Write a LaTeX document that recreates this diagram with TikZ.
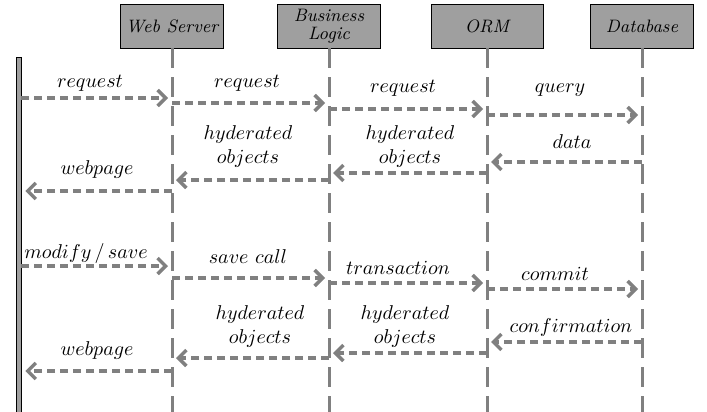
\documentclass[tikz,border=0pt]{standalone}
\usepackage{amsmath,amssymb}
\usepackage{tikz}
\usetikzlibrary{arrows.meta}

\begin{document}
\begin{tikzpicture}[x=0.5pt, y=-0.5pt,
  actor/.style={draw, fill=gray!75, minimum width=51.5pt, minimum height=22pt, inner sep=2pt, align=center, font=\small\itshape},
  life/.style={gray, line width=1.5pt, dash pattern=on 10pt off 4.5pt},
  msg/.style={gray, line width=1.7pt, dash pattern=on 4pt off 2.5pt, -{Straight Barb[length=4pt,width=8pt]}, shorten >=2pt},
  lbl/.style={align=center, inner sep=0pt}]
\useasboundingbox (0,0) rectangle (707,412);
%actors
\node[draw, fill=gray!75, minimum width=2.5pt, minimum height=177.5pt, inner sep=0pt] (client) at (18.5,234.5) {};
\node[actor] (web) at (172,26) {Web Server};
\node[actor, inner sep=1pt] (bl) at (329,26) {Business\\[-2pt]Logic};
\node[actor, minimum width=56pt] (orm) at (487,26) {ORM};
\node[actor] (db) at (642,26) {Database};
\coordinate (bot) at (0,412);
\draw [life] (web) -- (web |- bot);
\draw [life] (bl) -- (bl |- bot);
\draw [life] (orm) -- (orm |- bot);
\draw [life] (db) -- (db |- bot);
%message rows
\coordinate (m1) at (0,98);
\coordinate (m2) at (0,103);
\coordinate (m3) at (0,109);
\coordinate (m4) at (0,115);
\coordinate (m5) at (0,162);
\coordinate (m6) at (0,173);
\coordinate (m7) at (0,180);
\coordinate (m8) at (0,191);
\coordinate (m9) at (0,266);
\coordinate (m10) at (0,278);
\coordinate (m11) at (0,283);
\coordinate (m12) at (0,289);
\coordinate (m13) at (0,342);
\coordinate (m14) at (0,353);
\coordinate (m15) at (0,358);
\coordinate (m16) at (0,371);
\draw [msg] (client.east |- m1) -- (web |- m1);
\draw [msg] (web |- m2) -- (bl |- m2);
\draw [msg] (bl |- m3) -- (orm |- m3);
\draw [msg] (orm |- m4) -- (db |- m4);
\draw [msg] (db |- m5) -- (orm |- m5);
\draw [msg] (orm |- m6) -- (bl |- m6);
\draw [msg] (bl |- m7) -- (web |- m7);
\draw [msg] (web |- m8) -- (client.east |- m8);
\draw [msg] (client.east |- m9) -- (web |- m9);
\draw [msg] (web |- m10) -- (bl |- m10);
\draw [msg] (bl |- m11) -- (orm |- m11);
\draw [msg] (orm |- m12) -- (db |- m12);
\draw [msg] (db |- m13) -- (orm |- m13);
\draw [msg] (orm |- m14) -- (bl |- m14);
\draw [msg] (bl |- m15) -- (web |- m15);
\draw [msg] (web |- m16) -- (client.east |- m16);
%labels
\node[lbl] (t1) at (90,83) {$request$};
\node[lbl] (t2) at (247,83) {$request$};
\node[lbl] (t3) at (403,88) {$request$};
\node[lbl] (t4) at (560,90) {$query$};
\node[lbl] (t5) at (572,142) {$data$};
\node[lbl] (t6) at (410,146) {$hyderated$\\$objects$};
\node[lbl] (t7) at (248,146) {$hyderated$\\$objects$};
\node[lbl] (t8) at (97,169) {$webpage$};
\node[lbl] (t9) at (86,253) {$modify\,/\,save$};
\node[lbl] (t10) at (248,257) {$save\ call$};
\node[lbl] (t11) at (398,268) {$transaction$};
\node[lbl] (t12) at (555,274) {$commit$};
\node[lbl] (t13) at (571,327) {$confirmation$};
\node[lbl] (t14) at (405,326) {$hyderated$\\$objects$};
\node[lbl] (t15) at (260,326) {$hyderated$\\$objects$};
\node[lbl] (t16) at (97,350) {$webpage$};
\end{tikzpicture}
\end{document}
